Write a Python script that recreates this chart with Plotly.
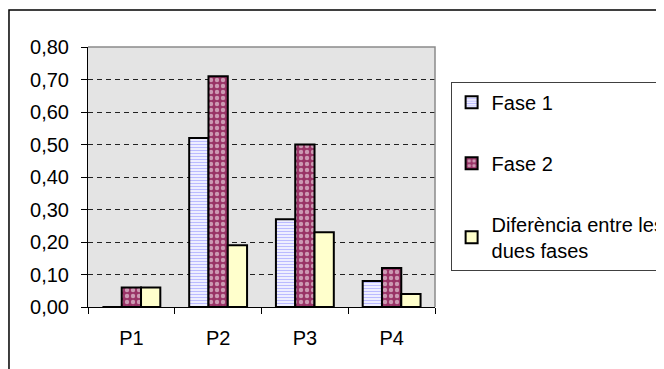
import plotly.graph_objects as go

categories = ["P1", "P2", "P3", "P4"]
fase1 = [0.0, 0.52, 0.27, 0.08]
fase2 = [0.06, 0.71, 0.50, 0.12]
diferencia = [0.06, 0.19, 0.23, 0.04]
series_names = ["Fase 1", "Fase 2", "Diferència entre les<br>dues fases"]
y_ticks = [0.0, 0.1, 0.2, 0.3, 0.4, 0.5, 0.6, 0.7, 0.8]

FONT = "Liberation Sans, Arial, sans-serif"
fig = go.Figure()

fig.add_trace(go.Bar(
    x=categories, y=fase1, name=series_names[0], legendgroup="a",
    marker=dict(color="white", line=dict(color="black", width=2),
                pattern=dict(shape="-", fgcolor="#7777ff", bgcolor="white",
                             size=3, solidity=0.5)),
))
fig.add_trace(go.Bar(
    x=categories, y=fase2, name=series_names[1], legendgroup="b",
    marker=dict(color="#993366", line=dict(color="black", width=2),
                pattern=dict(shape=".", fgcolor="white", bgcolor="#993366",
                             size=6, solidity=0.42)),
))
fig.add_trace(go.Bar(
    x=categories, y=diferencia, name=series_names[2], legendgroup="c",
    marker=dict(color="#FFFFCC", line=dict(color="black", width=2)),
))

fig.update_layout(
    width=656, height=361,
    margin=dict(l=80, r=229, t=39, b=62, autoexpand=False),
    paper_bgcolor="white",
    plot_bgcolor="#e4e4e4",
    separators=", ",
    barmode="group",
    bargap=0.333,
    bargroupgap=0,
    font=dict(family=FONT, size=20, color="black"),
    showlegend=True,
    legend=dict(
        x=1.045, y=0.866, xanchor="left", yanchor="top",
        bgcolor="white", bordercolor="#404040", borderwidth=1,
        font=dict(family=FONT, size=20, color="black"),
        tracegroupgap=32, itemclick=False,
    ),
    xaxis=dict(
        type="category", showline=True, linecolor="black", linewidth=1,
        ticks="outside", tickson="boundaries", ticklen=6, tickcolor="black",
        showgrid=False, ticklabelstandoff=13,
    ),
    yaxis=dict(
        range=[0, 0.8], tickvals=y_ticks, tickformat=".2f",
        showline=True, linecolor="black", linewidth=1,
        ticks="outside", ticklen=6, tickcolor="black",
        showgrid=True, gridcolor="#222222", gridwidth=1, griddash="5px,4px",
        zeroline=False, ticklabelstandoff=8,
    ),
    shapes=[
        dict(type="path", xref="paper", yref="paper",
             path="M 0,1 L 1,1 L 1,0", line=dict(color="#8a8a8a", width=1.5),
             layer="above"),
        dict(type="path", xref="paper", yref="paper",
             path="M 1.8,1.1423 L -0.2277,1.1423 L -0.2277,-0.3",
             line=dict(color="black", width=1.5), layer="above"),
    ],
)

fig.write_html("out.html")
